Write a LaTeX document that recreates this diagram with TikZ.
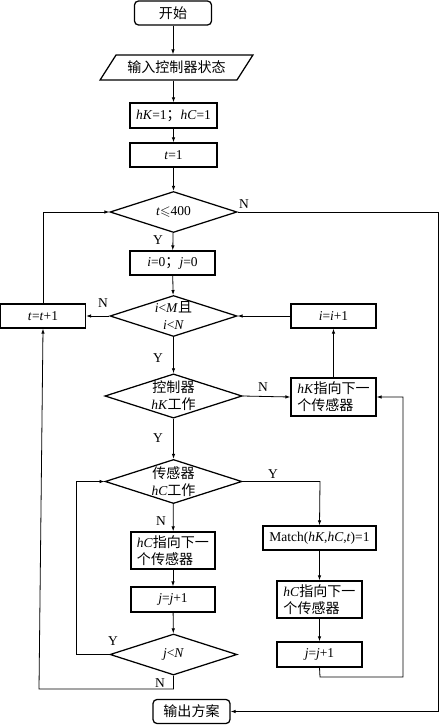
\documentclass[tikz,border=0pt]{standalone}
\usepackage{fontspec}
\usepackage{amssymb}
\setmainfont{Liberation Serif}
\newfontfamily\cjk[Scale=1.04]{Noto Sans CJK SC}
\newcommand{\zh}[1]{{\cjk #1}}
\newcommand{\vi}[1]{\textit{#1}}
\usetikzlibrary{shapes.geometric,arrows.meta}
\begin{document}
\begin{tikzpicture}[x=1pt,y=-1pt,
  every node/.style={font=\fontsize{13.5}{17}\selectfont},
  box/.style={draw,line width=1.25pt,inner sep=0pt,align=center},
  term/.style={draw,line width=1.25pt,rounded corners=4pt,inner sep=0pt,minimum width=77pt,minimum height=24pt},
  dia/.style={diamond,draw,line width=1.25pt,inner sep=0pt,aspect=3.1,minimum width=127pt,minimum height=41pt,align=center},
  io/.style={trapezium,trapezium left angle=45,trapezium right angle=135,draw,line width=1.25pt,inner sep=0pt,minimum height=25pt,trapezium stretches=true,minimum width=153pt},
  conn/.style={line width=0.8pt,-{Latex[length=5pt,width=3.5pt]}},
  lab/.style={inner sep=0pt}]
\useasboundingbox (0,0) rectangle (439,725);

\node[term] (start) at (173,13) {\zh{开始}};
\node[io] (in) at (176.5,67.5) {\zh{输入控制器状态}};
\node[box,minimum width=87pt,minimum height=25pt] (hk) at (173.5,115.5) {\vi{hK}=1\zh{；}\vi{hC}=1};
\node[box,minimum width=87pt,minimum height=24pt] (t1) at (173.5,155) {\vi{t}=1};
\node[dia] (d1) at (173.5,212) {\vi{t}$\leqslant$400};
\node[box,minimum width=85pt,minimum height=24pt] (ij) at (172.5,263) {\vi{i}=0\zh{；}\vi{j}=0};
\node[dia] (d2) at (173.5,316) {\vi{i}<\vi{M}\zh{且}\\\vi{i}<\vi{N}};
\node[box,minimum width=85pt,minimum height=24pt] (tt) at (43,316) {\vi{t}=\vi{t}+1};
\node[box,minimum width=85pt,minimum height=24pt] (ii) at (333.5,316) {\vi{i}=\vi{i}+1};
\node[dia] (d3) at (173.5,396) {\zh{控制器}\\\vi{hK}\zh{工作}};
\node[box,minimum width=85pt,minimum height=38pt,align=left] (hk2) at (333.5,397) {\vi{hK}\zh{指向下一}\\\zh{个传感器}};
\node[dia] (d4) at (173.5,481.5) {\zh{传感器}\\\vi{hC}\zh{工作}};
\node[box,minimum width=84pt,minimum height=37pt,align=left] (hc1) at (173,550.5) {\vi{hC}\zh{指向下一}\\\zh{个传感器}};
\node[box,minimum width=84pt,minimum height=25pt] (j1) at (173,599.5) {\vi{j}=\vi{j}+1};
\node[dia] (d5) at (173.5,654.5) {\vi{j}<\vi{N}};
\node[box,minimum width=113pt,minimum height=24pt] (match) at (319.5,538) {Match(\vi{hK},\vi{hC},\vi{t})=1};
\node[box,minimum width=85pt,minimum height=37pt,align=left] (hc2) at (319.5,599.5) {\vi{hC}\zh{指向下一}\\\zh{个传感器}};
\node[box,minimum width=85pt,minimum height=25pt] (j2) at (319.5,654.5) {\vi{j}=\vi{j}+1};
\node[term] (out) at (191.5,711.5) {\zh{输出方案}};

\coordinate (c2) at (438,212);
\coordinate (c3) at (438,711.5);
\coordinate (c4) at (320,481.5);
\coordinate (c5) at (320,677);
\coordinate (c6) at (403,677);
\coordinate (c7) at (403,397);
\coordinate (c8) at (76,654.5);
\coordinate (c9) at (76,481.5);
\coordinate (c10) at (173.5,689);
\coordinate (c11) at (39,689);

\draw[conn] (start) -- (start |- in.north);
\draw[conn] (hk |- in.south) -- (hk);
\draw[conn] (hk) -- (t1);
\draw[conn] (t1) -- (d1);
\draw[conn] (d1) -- (ij);
\draw[conn] (ij) -- (d2);
\draw[conn] (d2) -- (d3);
\draw[conn] (d3) -- (d4);
\draw[conn] (d4) -- (hc1);
\draw[conn] (hc1) -- (j1);
\draw[conn] (j1) -- (d5);
\draw[conn] (d2.west) -- (tt.east);
\draw[conn] (ii.west) -- (d2.east);
\draw[conn] (d3.east) -- (hk2.west);
\draw[conn] (hk2.north) -- (ii.south);
\draw[conn] (tt.north) |- (d1.west);
\draw[conn] (d1.east) -- (c2) -- (c3) -- (out.east);
\draw[conn] (d4.east) -- (c4) -- (match.north);
\draw[conn] (match) -- (hc2);
\draw[conn] (hc2) -- (j2);
\draw[conn] (j2.south) -- (c5) -- (c6) -- (c7) -- (hk2.east);
\draw[conn] (d5.west) -- (c8) -- (c9) -- (d4.west);
\draw[conn] (d5.south) -- (c10) -- (c11) -- (tt.south);

\node[lab] (y1) at (158,240) {Y};
\node[lab] (n1) at (244,204) {N};
\node[lab] (n2) at (103,303) {N};
\node[lab] (y2) at (158,358) {Y};
\node[lab] (n3) at (263,387) {N};
\node[lab] (y3) at (158,438) {Y};
\node[lab] (y4) at (273,474) {Y};
\node[lab] (n4) at (161,521) {N};
\node[lab] (y5) at (113,641) {Y};
\node[lab] (n5) at (160,683) {N};
\end{tikzpicture}
\end{document}
